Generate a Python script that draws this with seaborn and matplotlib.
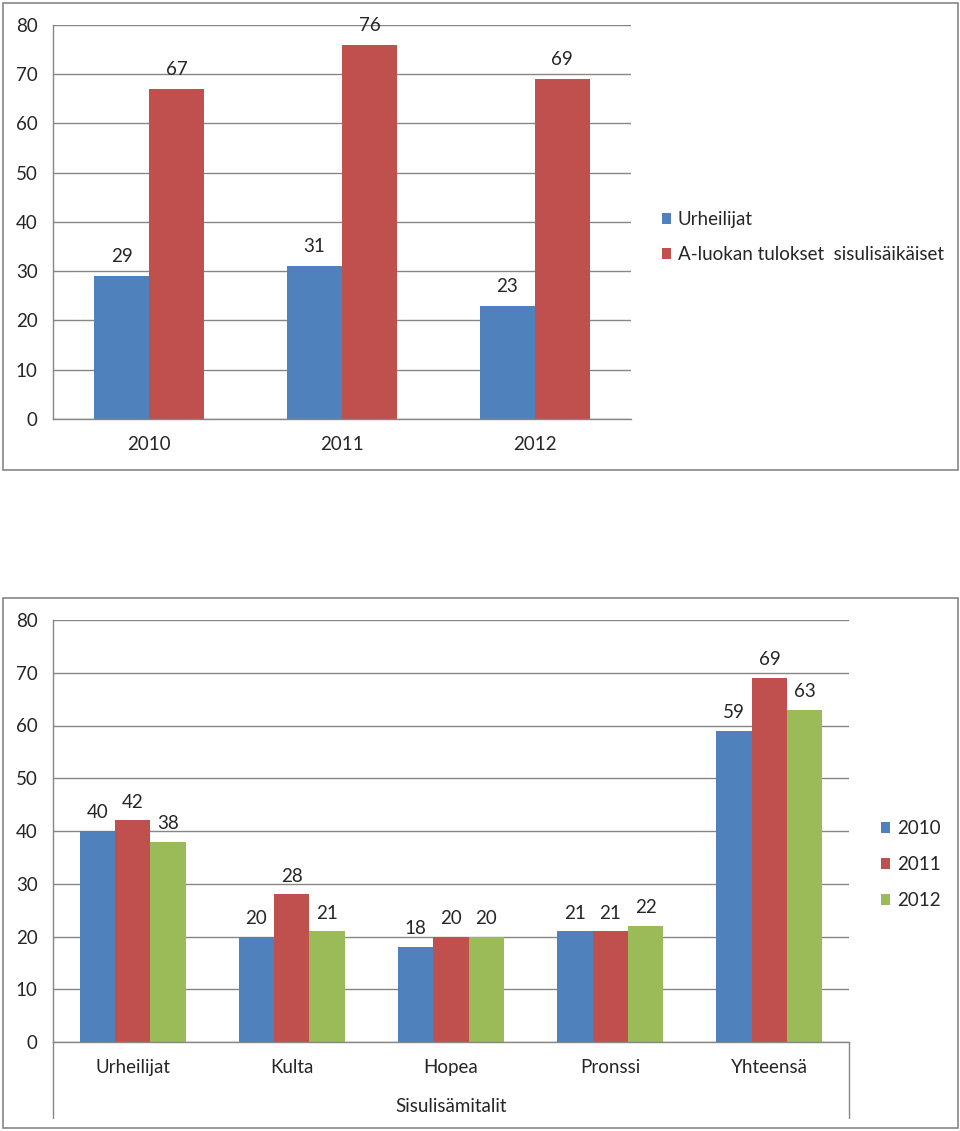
import matplotlib
matplotlib.use('Agg')
import matplotlib.pyplot as plt
from matplotlib.patches import Rectangle
from matplotlib.ticker import FixedLocator
import pandas as pd
import seaborn as sns

# Yläkaavio: urheilijat ja A-luokan tulokset
vuodet = ['2010', '2011', '2012']
urheilijat = [29, 31, 23]
a_luokan_tulokset = [67, 76, 69]
sarjat_yla = ['Urheilijat', 'A-luokan tulokset  sisulisäikäiset']

# Alakaavio: sisulisämitalit
kategoriat = ['Urheilijat', 'Kulta', 'Hopea', 'Pronssi', 'Yhteensä']
arvot_2010 = [40, 20, 18, 21, 59]
arvot_2011 = [42, 28, 20, 21, 69]
arvot_2012 = [38, 21, 20, 22, 63]

SININEN = '#4F81BD'
PUNAINEN = '#C0504D'
VIHREA = '#9BBB59'
HARMAA = '#868686'
FS = 13.5

W, H = 960, 1131


def fx(px):
    return px / W


def fy(py):
    return 1 - py / H


def muotoile_akseli(ax):
    ax.set_ylim(0, 80)
    ax.set_yticks(range(0, 81, 10))
    ax.yaxis.grid(True, color=HARMAA, lw=1)
    ax.set_axisbelow(True)
    for s in ['top', 'right']:
        ax.spines[s].set_visible(False)
    for s in ['left', 'bottom']:
        ax.spines[s].set_color(HARMAA)
        ax.spines[s].set_linewidth(1)
    ax.tick_params(axis='y', length=6, color=HARMAA, width=1, labelsize=FS, pad=5)
    ax.tick_params(axis='x', which='major', length=0, labelsize=FS, pad=12)
    ax.set_xlabel('')
    ax.set_ylabel('')
    n = len(ax.get_xticks())
    ax.xaxis.set_minor_locator(FixedLocator([i - 0.5 for i in range(n + 1)]))


def yla_kaavio(fig):
    ax = fig.add_axes([fx(53), fy(419), fx(631 - 53), (419 - 25) / H])
    df = pd.DataFrame({
        'vuosi': vuodet * 2,
        'arvo': urheilijat + a_luokan_tulokset,
        'sarja': [sarjat_yla[0]] * 3 + [sarjat_yla[1]] * 3,
    })
    sns.barplot(data=df, x='vuosi', y='arvo', hue='sarja', palette=[SININEN, PUNAINEN],
                width=0.57, saturation=1, linewidth=0, ax=ax)
    muotoile_akseli(ax)
    ax.tick_params(axis='x', which='minor', length=5, color=HARMAA, width=1)
    for c in ax.containers:
        ax.bar_label(c, fmt='%d', padding=8, fontsize=FS)
    handles, labels = ax.get_legend_handles_labels()
    ax.legend_.remove()
    fig.legend(handles, labels, loc='upper left', bbox_to_anchor=(fx(662), fy(211)),
               frameon=False, fontsize=FS, handlelength=0.5, handleheight=0.5,
               handletextpad=0.35, labelspacing=0.98, borderpad=0, borderaxespad=0)
    fig.patches.append(Rectangle((fx(3), fy(470)), fx(955), (470 - 3) / H,
                                 transform=fig.transFigure, fill=False,
                                 edgecolor=HARMAA, lw=1.2))


def ala_kaavio(fig):
    ax = fig.add_axes([fx(53), fy(1042), fx(849 - 53), (1042 - 620) / H])
    df = pd.DataFrame({
        'kategoria': kategoriat * 3,
        'arvo': arvot_2010 + arvot_2011 + arvot_2012,
        'vuosi': ['2010'] * 5 + ['2011'] * 5 + ['2012'] * 5,
    })
    sns.barplot(data=df, x='kategoria', y='arvo', hue='vuosi',
                palette=[SININEN, PUNAINEN, VIHREA],
                width=0.666, saturation=1, linewidth=0, ax=ax)
    muotoile_akseli(ax)
    ax.tick_params(axis='x', which='minor', length=28, color=HARMAA, width=1)
    for c in ax.containers:
        ax.bar_label(c, fmt='%d', padding=7, fontsize=FS)
    # ulommat erotinviivat jatkuvat ryhmän otsikon alle
    x0, x1 = ax.get_xlim()
    for x in (x0, x1):
        ax.axvline(x, ymin=-76 / 422, ymax=0, color=HARMAA, lw=1, clip_on=False)
    ax.set_xlabel('Sisulisämitalit', fontsize=FS, labelpad=9)
    handles, labels = ax.get_legend_handles_labels()
    ax.legend_.remove()
    fig.legend(handles, labels, loc='upper left', bbox_to_anchor=(fx(881), fy(820)),
               frameon=False, fontsize=FS, handlelength=0.5, handleheight=0.5,
               handletextpad=0.35, labelspacing=1.02, borderpad=0, borderaxespad=0)
    fig.patches.append(Rectangle((fx(3), fy(1128)), fx(955), (1128 - 598) / H,
                                 transform=fig.transFigure, fill=False,
                                 edgecolor=HARMAA, lw=1.2))


sns.set_style('white')
plt.rcParams['font.family'] = ['Lato', 'DejaVu Sans']
fig = plt.figure(figsize=(W / 100, H / 100), dpi=100)
yla_kaavio(fig)
ala_kaavio(fig)
fig.savefig('out.png', dpi=100)
plt.close(fig)
